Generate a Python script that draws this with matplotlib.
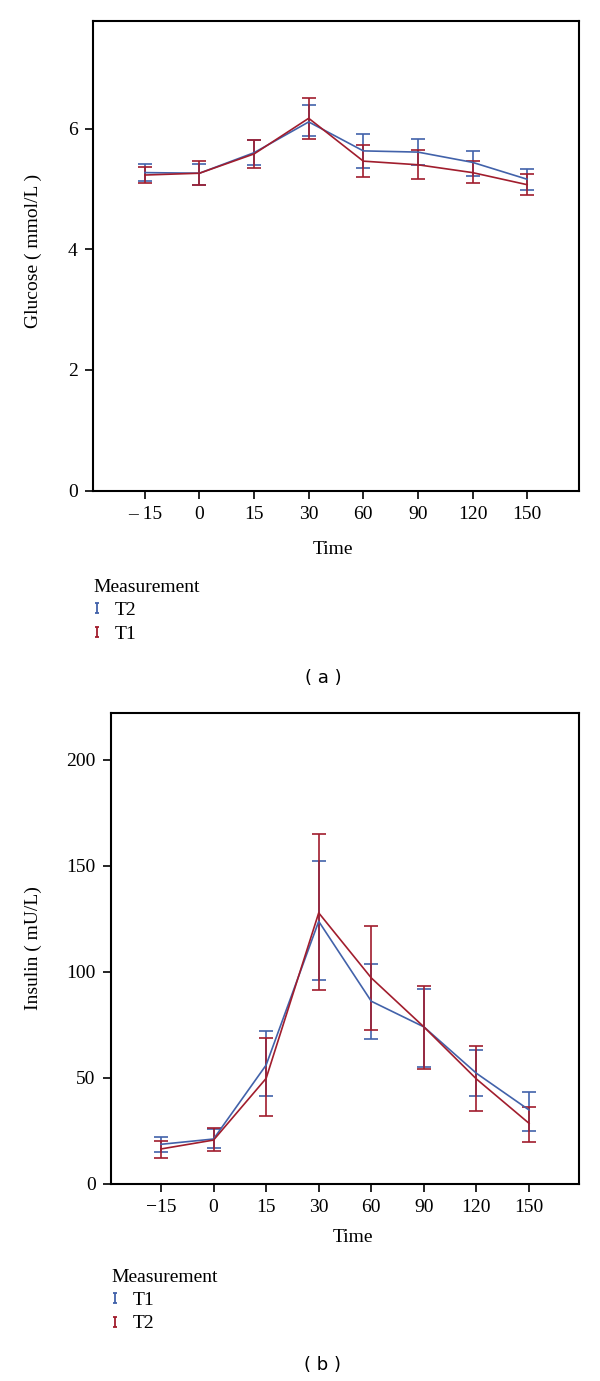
import numpy as np
import matplotlib.pyplot as plt
from matplotlib.lines import Line2D
from matplotlib.path import Path

plt.rcParams['font.family'] = ['Liberation Serif', 'DejaVu Serif']

# time points (categorical axis)
times_a = ['\u2013 15', '0', '15', '30', '60', '90', '120', '150']
times_b = ['\u221215', '0', '15', '30', '60', '90', '120', '150']

# (a) glucose, mmol/L
glu_t2 = [5.27, 5.26, 5.60, 6.11, 5.63, 5.61, 5.44, 5.16]
glu_t2_lo = [5.13, 5.07, 5.39, 5.87, 5.35, 5.40, 5.22, 4.99]
glu_t2_hi = [5.42, 5.42, 5.81, 6.39, 5.91, 5.82, 5.63, 5.33]
glu_t1 = [5.23, 5.26, 5.58, 6.17, 5.46, 5.40, 5.27, 5.07]
glu_t1_lo = [5.09, 5.07, 5.34, 5.82, 5.19, 5.17, 5.09, 4.90]
glu_t1_hi = [5.37, 5.46, 5.81, 6.50, 5.73, 5.65, 5.47, 5.25]

# (b) insulin, mU/L
ins_t1 = [18.5, 21.0, 55.9, 123.7, 86.0, 73.9, 52.0, 34.7]
ins_t1_lo = [14.7, 16.9, 41.3, 96.2, 68.4, 55.2, 41.3, 24.8]
ins_t1_hi = [22.1, 25.9, 71.8, 152.4, 103.6, 91.8, 62.8, 43.3]
ins_t2 = [16.3, 20.5, 49.6, 127.7, 97.0, 73.9, 49.3, 28.4]
ins_t2_lo = [12.2, 15.3, 32.0, 91.5, 72.3, 54.0, 34.2, 19.7]
ins_t2_hi = [20.2, 26.0, 68.7, 165.0, 121.4, 93.0, 64.9, 36.2]

blue = '#4262aa'
red = '#a11d2d'
fs = 14

# little I-beam glyph for the legend
ibeam = Path([(-0.5, -1), (0.5, -1), (0, -1), (0, 1), (-0.5, 1), (0.5, 1)],
             [Path.MOVETO, Path.LINETO, Path.MOVETO, Path.LINETO, Path.MOVETO, Path.LINETO])

fig = plt.figure(figsize=(6, 13.81), dpi=100)
ax1 = fig.add_axes([0.155, 0.6447, 0.81, 0.340])
ax2 = fig.add_axes([0.185, 0.143, 0.78, 0.3407])


def draw(ax, series, labels, ylim, yticks):
    x = np.arange(len(labels))
    for mean, lo, hi, col in series:
        mean = np.array(mean)
        err = [mean - np.array(lo), np.array(hi) - mean]
        ax.errorbar(x, mean, yerr=err, color=col, lw=1.2, elinewidth=1.2,
                    capsize=4.8, capthick=1.2)
    ax.set_xlim(-0.95, 7.95)
    ax.set_ylim(*ylim)
    ax.set_xticks(x)
    ax.set_xticklabels(labels)
    ax.set_yticks(yticks)
    ax.tick_params(direction='out', length=6, width=1.2, labelsize=fs, pad=5)
    for s in ax.spines.values():
        s.set_linewidth(1.5)


draw(ax1, [(glu_t2, glu_t2_lo, glu_t2_hi, blue), (glu_t1, glu_t1_lo, glu_t1_hi, red)],
     times_a, (0, 7.78), [0, 2, 4, 6])
draw(ax2, [(ins_t1, ins_t1_lo, ins_t1_hi, blue), (ins_t2, ins_t2_lo, ins_t2_hi, red)],
     times_b, (0, 222), [0, 50, 100, 150, 200])

ax1.set_ylabel('Glucose ( mmol/L )', fontsize=fs)
ax1.yaxis.set_label_coords(-0.105, 0.51)
ax1.set_xlabel('Time', fontsize=fs)
ax1.xaxis.set_label_coords(0.494, -0.108)

ax2.set_ylabel('Insulin ( mU/L)', fontsize=fs)
ax2.yaxis.set_label_coords(-0.148, 0.5)
ax2.set_xlabel('Time', fontsize=fs)
ax2.xaxis.set_label_coords(0.517, -0.097)


def legend(ax, names, cols, anchor):
    h = [Line2D([], [], ls='none', marker=ibeam, markersize=7, mew=1.3, color=c) for c in cols]
    ax.legend(h, names, title='Measurement', loc='upper left', bbox_to_anchor=anchor,
              bbox_transform=fig.transFigure, frameon=False, fontsize=fs,
              title_fontsize=fs, alignment='left', borderpad=0, borderaxespad=0,
              handlelength=0.4, handletextpad=0.7, labelspacing=0.3)


legend(ax1, ['T2', 'T1'], [blue, red], (0.155, 0.581))
legend(ax2, ['T1', 'T2'], [blue, red], (0.185, 0.0814))

fig.text(323 / 600, 1 - 678 / 1381, '( a )', ha='center', va='center',
         fontsize=13, family='DejaVu Sans')
fig.text(322 / 600, 1 - 1365 / 1381, '( b )', ha='center', va='center',
         fontsize=13, family='DejaVu Sans')

fig.savefig('out.png', dpi=100)
